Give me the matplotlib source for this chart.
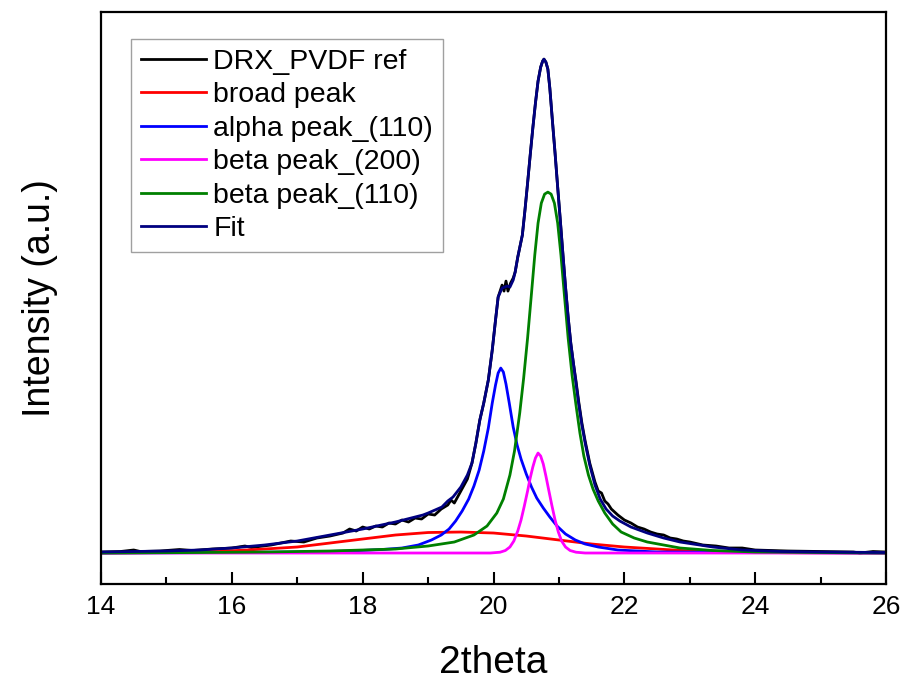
import matplotlib
matplotlib.use('Agg')
import matplotlib.pyplot as plt
from matplotlib.ticker import MultipleLocator

plt.rcParams['font.family'] = ['Liberation Sans', 'DejaVu Sans']

x_drx = [14.0, 14.3, 14.5, 14.6, 14.9, 15.2, 15.4, 15.7, 16.0, 16.2, 16.3, 16.6,
         16.9, 17.1, 17.3, 17.5, 17.7, 17.8, 17.9, 18.0, 18.1, 18.2, 18.3, 18.4,
         18.5, 18.6, 18.7, 18.8, 18.9, 19.0, 19.1, 19.2, 19.3, 19.35, 19.4, 19.5,
         19.6, 19.67, 19.73, 19.79, 19.85, 19.92, 19.98, 20.03, 20.07, 20.13,
         20.16, 20.19, 20.22, 20.26, 20.30, 20.33, 20.37, 20.44, 20.48, 20.52,
         20.56, 20.60, 20.64, 20.68, 20.72, 20.75, 20.77, 20.80, 20.83, 20.86,
         20.90, 20.94, 20.98, 21.02, 21.06, 21.10, 21.14, 21.18, 21.22, 21.26,
         21.30, 21.35, 21.40, 21.47, 21.55, 21.6, 21.65, 21.7, 21.75, 21.8, 21.85,
         21.9, 22.0, 22.1, 22.2, 22.3, 22.4, 22.5, 22.6, 22.7, 22.8, 22.9, 23.0,
         23.2, 23.4, 23.6, 23.8, 24.0, 24.5, 25.0, 25.5, 25.6, 25.8, 26.0]
y_drx = [1, 1.5, 3, 1.5, 2, 3.5, 2.5, 4, 5, 7, 5.5, 8,
         12, 11, 15, 17, 20, 24, 22, 26, 24, 27, 26, 30,
         29, 33, 31, 35, 34, 39, 38, 44, 48, 53, 50, 62,
         74, 90, 110, 133, 150, 173, 203, 233, 256, 268,
         262, 272, 262, 270, 275, 281, 296, 318, 343, 370,
         398, 425, 450, 472, 486, 492, 494, 491, 484, 465,
         432, 400, 366, 333, 299, 266, 236, 210, 190, 172,
         152, 130, 112, 90, 71, 62, 60, 52, 49, 44, 41,
         38, 33, 30, 26, 24, 21, 19, 18, 15, 14, 12, 11,
         8, 7, 5, 5, 3, 2, 1.5, 1, 0, 1.5, 1]

# broad peak
x_broad = [14.0, 15.0, 15.8, 16.5, 17.0, 17.5, 18.0, 18.5, 19.0, 19.5, 20.0,
           20.5, 21.0, 21.5, 22.0, 22.5, 23.0, 23.5, 24.5, 26.0]
y_broad = [0, 0.5, 1.5, 4, 6, 10, 14, 18, 20.5, 21, 20,
           17, 13, 9, 6, 4, 2, 1, 0.3, 0]

# alpha peak_(110)
x_alpha = [14.0, 16.0, 17.0, 17.8, 18.3, 18.6, 18.85, 19.05, 19.2, 19.32, 19.42,
           19.52, 19.62, 19.70, 19.78, 19.85, 19.92, 19.98, 20.03, 20.07, 20.11,
           20.15, 20.19, 20.24, 20.30, 20.36, 20.42, 20.50, 20.58, 20.66, 20.76,
           20.86, 20.97, 21.1, 21.25, 21.4, 21.6, 21.9, 22.5, 26.0]
y_alpha = [0, 0.5, 1, 2, 3.5, 5, 8, 13, 18, 24, 32,
           42, 54, 67, 83, 102, 125, 150, 168, 180, 185,
           181, 169, 150, 126, 108, 94, 79, 66, 55, 45,
           36, 27, 19, 13, 9, 6, 3, 1, 0]

# beta peak_(200)
x_b200 = [14.0, 19.95, 20.10, 20.18, 20.25, 20.31, 20.37, 20.42, 20.47, 20.52,
          20.56, 20.60, 20.64, 20.68, 20.72, 20.76, 20.80, 20.84, 20.89, 20.94,
          20.99, 21.04, 21.10, 21.17, 21.26, 21.40, 26.0]
y_b200 = [0, 0, 0.8, 2.5, 6, 12, 22, 33, 47, 62,
          75, 86, 95, 100, 97, 89, 77, 64, 48, 33,
          21, 12, 6, 2.5, 0.8, 0, 0]

# beta peak_(110)
x_b110 = [14.0, 15.5, 16.5, 17.5, 18.5, 19.0, 19.4, 19.7, 19.9, 20.05, 20.15,
          20.25, 20.32, 20.40, 20.46, 20.52, 20.58, 20.63, 20.68, 20.73, 20.78,
          20.83, 20.88, 20.93, 20.98, 21.03, 21.08, 21.14, 21.20, 21.26, 21.32,
          21.38, 21.45, 21.52, 21.60, 21.70, 21.82, 21.95, 22.15, 22.35, 22.6,
          22.85, 23.35, 24.0, 26.0]
y_b110 = [0, 0.5, 1, 2, 4, 7, 11, 18, 27, 40, 54,
          78, 102, 140, 175, 215, 260, 298, 330, 350, 359,
          361, 359, 350, 330, 298, 260, 215, 178, 148, 120,
          97, 78, 64, 52, 40, 29, 21, 15, 11, 8,
          5, 2.5, 1, 0]

# Fit
x_fit = [14.0, 14.5, 15.0, 15.5, 16.0, 16.5, 17.0, 17.5, 18.0, 18.5, 18.92,
         19.0, 19.21, 19.3, 19.38, 19.44, 19.5, 19.6, 19.67, 19.73, 19.79,
         19.85, 19.92, 19.98, 20.03, 20.07, 20.13, 20.21, 20.25, 20.30, 20.33,
         20.37, 20.44, 20.48, 20.52, 20.56, 20.60, 20.64, 20.68, 20.72, 20.75,
         20.77, 20.80, 20.83, 20.86, 20.90, 20.94, 20.98, 21.02, 21.06, 21.10,
         21.14, 21.18, 21.22, 21.26, 21.30, 21.35, 21.40, 21.47, 21.55, 21.63,
         21.72, 21.82, 21.93, 22.10, 22.35, 22.60, 22.85, 23.35, 23.8, 24.4,
         25.0, 26.0]
y_fit = [1, 1.5, 2, 3, 5, 8, 12, 18, 24, 31, 38,
         40, 46, 52, 56, 61, 66, 78, 90, 110, 133,
         150, 173, 203, 233, 256, 265, 267, 266, 273, 281,
         296, 318, 343, 370, 398, 425, 450, 472, 486, 492,
         494, 491, 484, 465, 432, 400, 366, 333, 299, 266,
         236, 210, 190, 170, 150, 128, 110, 88, 68, 54,
         44, 37, 32, 26, 20, 15, 11, 6, 3, 1.5,
         1, 0.5]

fig = plt.figure(figsize=(9.14, 6.84), dpi=100)
ax = fig.add_axes([0.1105, 0.1462, 0.859, 0.836])

lw = 2.0
ax.plot(x_drx, y_drx, color='black', lw=lw, label='DRX_PVDF ref')
ax.plot(x_broad, y_broad, color='#ff0000', lw=lw, label='broad peak')
ax.plot(x_alpha, y_alpha, color='#0000ff', lw=lw, label='alpha peak_(110)')
ax.plot(x_b200, y_b200, color='#ff00ff', lw=lw, label='beta peak_(200)')
ax.plot(x_b110, y_b110, color='#008000', lw=lw, label='beta peak_(110)')
ax.plot(x_fit, y_fit, color='#000080', lw=lw, label='Fit')

ax.set_xlim(14, 26)
ax.set_ylim(-31, 541)
ax.xaxis.set_major_locator(MultipleLocator(2))
ax.xaxis.set_minor_locator(MultipleLocator(1))
ax.tick_params(axis='x', which='major', direction='in', length=9, width=1.5,
               labelsize=19, pad=8)
ax.tick_params(axis='x', which='minor', direction='in', length=5, width=1.5)
ax.set_yticks([])
for sp in ax.spines.values():
    sp.set_linewidth(1.6)

ax.set_xlabel('2theta', fontsize=28, labelpad=19)
ax.set_ylabel('Intensity (a.u.)', fontsize=27, labelpad=31)

leg = ax.legend(loc='upper left', bbox_to_anchor=(0.038, 0.953),
                borderaxespad=0, fontsize=20.5, frameon=True, fancybox=False,
                edgecolor='#888888', labelspacing=0.26, handlelength=2.3,
                handletextpad=0.25, borderpad=0.35)
leg.get_frame().set_linewidth(1.0)

fig.savefig('out.png', dpi=100)
